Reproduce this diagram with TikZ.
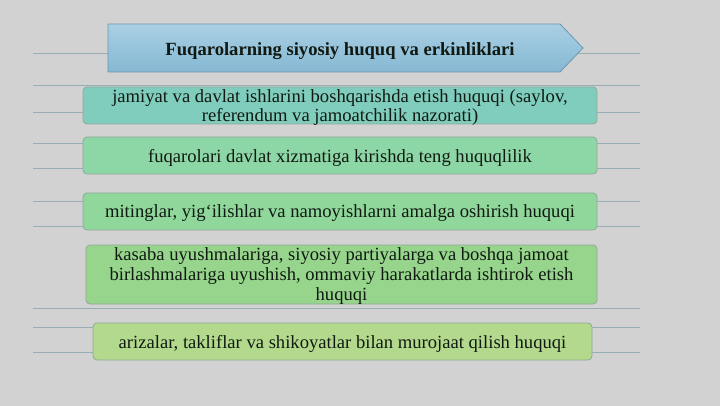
\documentclass[tikz,border=0pt]{standalone}
\usepackage{fontspec}
\setmainfont{Liberation Serif}
\begin{document}
\begin{tikzpicture}[x=1pt,y=-1pt,
  bgline/.style={draw=lineC,line width=1pt},
  itembox/.style={draw=boxEdge,line width=0.8pt,rounded corners=4pt,inner sep=0pt,align=center,text depth=0pt,font=\fontsize{18.6}{19}\selectfont,text=txtC},
]
\definecolor{bgC}{HTML}{D2D2D2}
\definecolor{lineC}{HTML}{98AEB6}
\definecolor{boxEdge}{HTML}{8FA898}
\definecolor{txtC}{HTML}{101A12}
\definecolor{titleTop}{HTML}{A9D0E3}
\definecolor{titleBot}{HTML}{86B8D4}
\definecolor{titleEdge}{HTML}{6E97AE}
\definecolor{cA}{HTML}{80CDBE}
\definecolor{cB}{HTML}{8DD6A6}
\definecolor{cC}{HTML}{90D79C}
\definecolor{cD}{HTML}{97D58C}
\definecolor{cE}{HTML}{B3DA8C}
\useasboundingbox (0,0) rectangle (720,406);
\fill[bgC] (0,0) rectangle (720,406);
% background lines
\foreach \yy in {54,86,113,144,169,202,227,308,327,352}
  \draw[bgline] (33,\yy) -- (640,\yy);
% title
\shade[top color=titleTop,bottom color=titleBot,draw=titleEdge,line width=0.8pt]
  (108,24) -- (560,24) -- (583,48) -- (560,72) -- (108,72) -- cycle;
\node[font=\bfseries\fontsize{18.6}{20}\selectfont,text=txtC,text depth=0pt] (title) at (340,49) {Fuqarolarning siyosiy huquq va erkinliklari};
% items
\node[itembox,fill=cA,minimum width=514pt,minimum height=37pt] (b1) at (340,105.5)
  {jamiyat va davlat ishlarini boshqarishda etish huquqi (saylov,\\referendum va jamoatchilik nazorati)};
\node[itembox,fill=cB,minimum width=514pt,minimum height=37pt] (b2) at (340,155.5)
  {fuqarolari davlat xizmatiga kirishda teng huquqlilik};
\node[itembox,fill=cC,minimum width=514pt,minimum height=37pt] (b3) at (340,211.5)
  {mitinglar, yig‘ilishlar va namoyishlarni amalga oshirish huquqi};
\node[itembox,fill=cD,minimum width=511pt,minimum height=59pt,font=\fontsize{18.6}{20}\selectfont] (b4) at (341.5,274.5)
  {kasaba uyushmalariga, siyosiy partiyalarga va boshqa jamoat\\birlashmalariga uyushish, ommaviy harakatlarda ishtirok etish\\huquqi};
\node[itembox,fill=cE,minimum width=499pt,minimum height=37pt] (b5) at (342.5,341.5)
  {arizalar, takliflar va shikoyatlar bilan murojaat qilish huquqi};
\end{tikzpicture}
\end{document}
